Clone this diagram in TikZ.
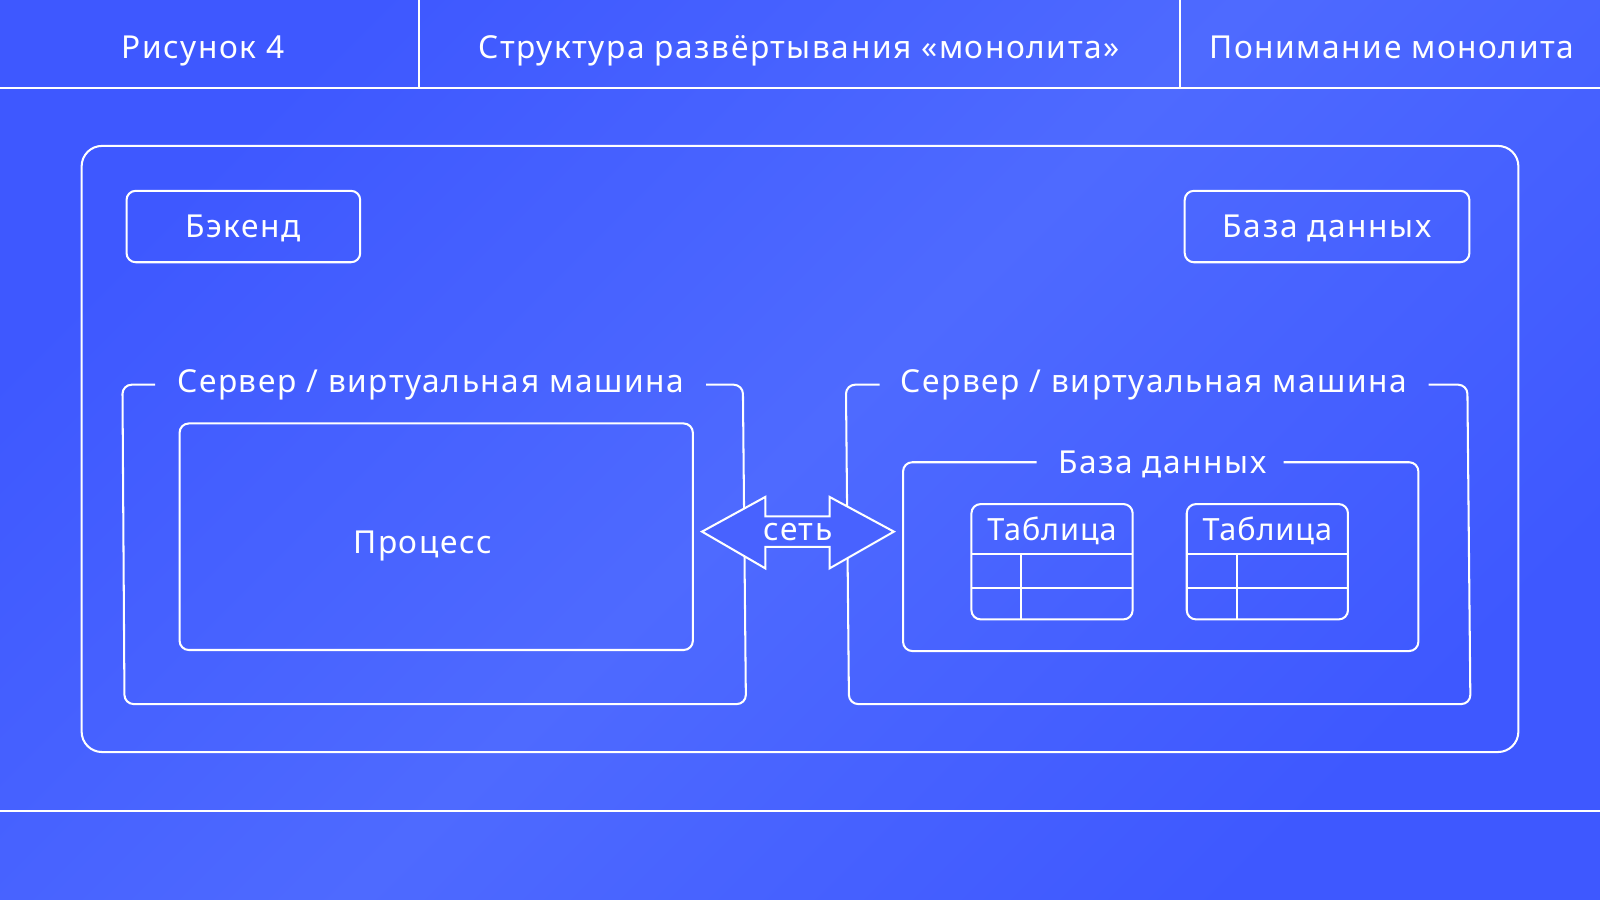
\documentclass[tikz,border=0pt]{standalone}
\usepackage{fontspec}
\setmainfont{Noto Sans}[LetterSpace=5]
\begin{document}
\begin{tikzpicture}[x=1pt,y=-1pt,
  every node/.style={text=white,font=\fontsize{31}{36}\selectfont,inner sep=0,anchor=base},
  ln/.style={draw=white,line width=2pt},
  box/.style={ln,rounded corners=9pt}]
\path[left color={rgb,255:red,62;green,88;blue,255},right color={rgb,255:red,62;green,88;blue,255},middle color={rgb,255:red,78;green,106;blue,255},shading angle=45] (0,0) rectangle (1568,882);
\useasboundingbox (0,0) rectangle (1568,882);
% header
\draw[ln] (0,86) -- (1568,86);
\draw[ln] (411,0) -- (411,86);
\draw[ln] (1156,0) -- (1156,86);
\draw[ln] (0,795) -- (1568,795);
\node (h1) at (199,57) {Рисунок 4};
\node (h2) at (783,57) {Структура развёртывания «монолита»};
\node (h3) at (1364,57) {Понимание монолита};
% outer
\draw[box,rounded corners=20pt] (80,143) rectangle (1488,737);
\node[box,minimum width=229pt,minimum height=70pt,anchor=center] (be) at (238.5,222) {};
\node at (238.5,233) {Бэкенд};
\node[box,minimum width=279pt,minimum height=70pt,anchor=center] (db) at (1300.5,222) {};
\node at (1300.5,233) {База данных};
% left server
\draw[ln,rounded corners=9pt] (152,377) -- (120,377) -- (122,690) -- (731,690) -- (728,377) -- (692,377);
\node (s1) at (422,385) {Сервер / виртуальная машина};
\node[box,minimum width=503pt,minimum height=222pt,anchor=center] (proc) at (427.5,526) {};
\node at (414,542) {Процесс};
% right server
\draw[ln,rounded corners=9pt] (862,377) -- (829,377) -- (832,690) -- (1441,690) -- (1438,377) -- (1400,377);
\node (s2) at (1131,385) {Сервер / виртуальная машина};
\draw[ln,rounded corners=9pt] (1016,453) -- (885,453) -- (885,638) -- (1390,638) -- (1390,453) -- (1258,453);
\node (dbl) at (1139,464) {База данных};
% tables
\foreach \x/\n in {952/t1,1163/t2}{
  \draw[box] (\x,494) rectangle ++(158,113);
  \draw[ln] (\x,543) -- ++(158,0);
  \draw[ln] (\x,576) -- ++(158,0);
  \draw[ln] (\x+49,543) -- (\x+49,607);
  \node[font=\fontsize{30}{36}\selectfont\addfontfeatures{LetterSpace=3}] (\n) at (\x+79,530) {Таблица};
}
% network arrow
\draw[ln,fill={rgb,255:red,72;green,98;blue,255},line join=miter] (688,521) -- (750,487) -- (750,506) -- (813,506) -- (813,487) -- (876,521) -- (813,557) -- (813,536) -- (750,536) -- (750,557) -- cycle;
\node (net) at (782,530) {сеть};
\end{tikzpicture}
\end{document}
